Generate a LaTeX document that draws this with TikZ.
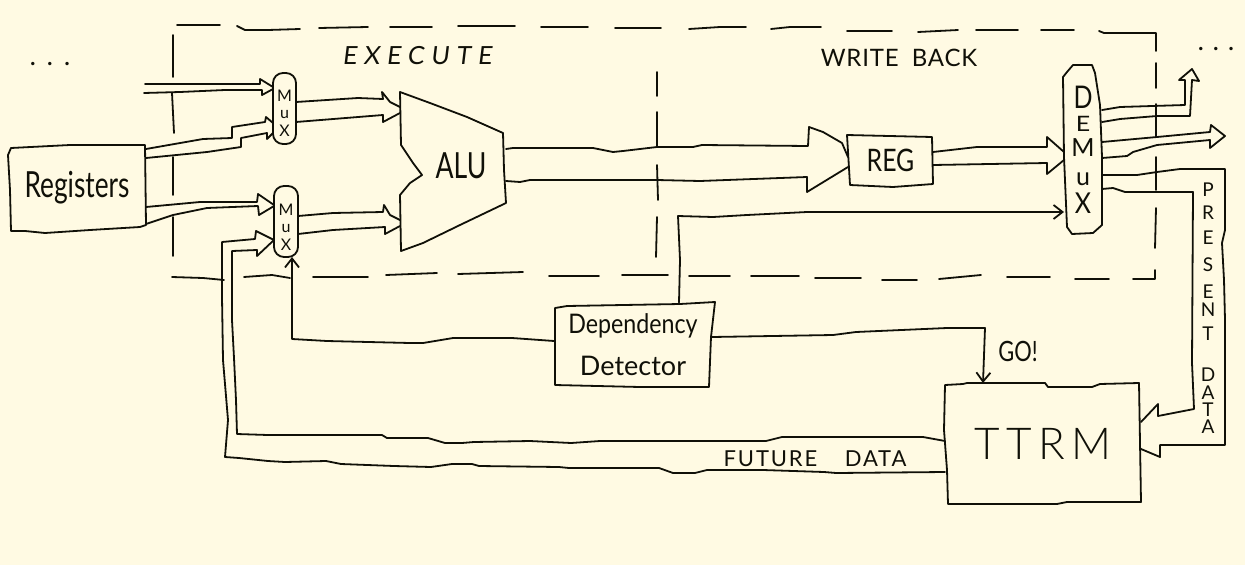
\documentclass[tikz,border=0pt]{standalone}
\usepackage{fontspec}
\usepackage{graphicx}
\setmainfont{Lato}
\newfontfamily\plainface{Lato}
\newfontfamily\trackA[LetterSpace=27,FakeSlant=0.12]{Lato}
\newfontfamily\trackB[LetterSpace=3.5]{Lato}
\newfontfamily\trackC[LetterSpace=14]{Lato Light}
\newfontfamily\trackD[LetterSpace=8.5]{Lato}
\newfontfamily\dotface{Carlito}
\usetikzlibrary{arrows.meta}
\definecolor{paper}{HTML}{FFFAE3}
\definecolor{ink}{HTML}{101008}
\tikzset{
  wire/.style={line width=1.8pt,line join=round,line cap=round,draw=ink},
  thin arrow/.style={wire,-{Straight Barb[length=9pt,width=14pt,line width=1.8pt]}},
  slot/.style 2 args={inner sep=0pt,outer sep=0pt,minimum width=#1,minimum height=#2,align=center,text=ink},
  mux node/.style={slot={#1}{71pt},draw=ink,line width=1.8pt,rounded corners=10pt,font=\fontsize{16}{17.5}\selectfont},
  words/.style={inner sep=0pt,outer sep=0pt,text=ink,align=center},
}
\begin{document}
\begin{tikzpicture}[x=1pt,y=-1pt]
\useasboundingbox (0,0) rectangle (1245,565);
\fill[paper] (0,0) rectangle (1245,565);

% dashed frame of the two stages
\draw[wire]
 (177,25)--(220,25) (237,26)--(245,30)--(268,30)--(300,29) (319,28)--(368,27) (390,27)--(432,27)
 (458,26)--(515,26) (541,27)--(588,27) (615,28)--(661,28) (689,29)--(720,27)--(746,27)
 (771,29)--(790,27)--(821,27) (847,31)--(892,31) (918,32)--(958,30) (976,30)--(1018,30)
 (1041,30)--(1074,30) (1099,31)--(1104,33)--(1156,33)--(1156,51) (1156,63)--(1156,88)
 (1156,104)--(1156,137) (1156,157)--(1156,190) (1156,208)--(1155,248) (1155,270)--(1155,279)--(1133,279)
 (1109,279)--(1075,279) (1050,277)--(1007,277) (981,275)--(939,279) (917,280)--(882,280)
 (861,278)--(815,278) (799,276)--(751,276) (730,276)--(689,276) (668,275)--(622,275)
 (599,276)--(549,276) (523,272)--(458,274) (437,273)--(386,275) (368,277)--(313,277)
 (290,278)--(272,275)--(244,277) (224,280)--(203,278)--(172,277)
 (173,256)--(173,217) (173,195)--(173,157) (174,133)--(172,93) (173,77)--(173,35);
% stage separator
\draw[wire] (657,72)--(657,96) (657,112)--(657,147) (657,165)--(658,200) (657,217)--(656,257);

% nodes
\node[slot={138pt}{84pt},font=\fontsize{36}{36}\selectfont] (registers) at (77,189) {\raisebox{9pt}{\scalebox{.73}[1]{Registers}}};
\node[mux node=23pt] (mux1) at (284.5,108.5) {\rule{0pt}{20pt}M\\u\\X};
\node[mux node=24pt] (mux2) at (286,221.5) {\rule{0pt}{22pt}M\\u\\X};
\node[slot={106pt}{159pt}] (alu) at (453,171.5) {};
\node[words,font=\fontsize{36}{36}\selectfont] (alutext) at (461,166) {\scalebox{.74}[1]{ALU}};
\node[slot={85pt}{51pt},font=\fontsize{31}{31}\selectfont] (reg) at (890.5,160.5) {\raisebox{-3pt}{\scalebox{.8}[1]{REG}}};
\node[slot={38pt}{169pt},font=\fontsize{25}{20}\selectfont] (demux) at (1083,149.5) {\scalebox{1}[1.25]{D}\\[3pt]\scalebox{1}[.85]{E}\\[5pt]M\\[9pt]u\\[6pt]\scalebox{1}[1.15]{X}};
\node[slot={158pt}{85pt},font=\fontsize{27}{42}\selectfont] (dep) at (633,345) {\scalebox{.86}[1]{Dependency}\\\scalebox{1}[1]{Detector}};
\node[slot={196pt}{121pt},font=\fontsize{44}{44}\selectfont] (ttrm) at (1043,443.5) {\raisebox{-7pt}{\trackC TTRM}};

\node[words,font=\fontsize{25}{25}\selectfont] (execute) at (417,56) {\trackA EXECUTE};
\node[words,font=\fontsize{24}{24}\selectfont] (writeback) at (899,58) {\trackB WRITE\hspace{6pt} BACK};
\node[words,font=\fontsize{28}{28}\selectfont] (go) at (1018,351) {\scalebox{.78}[1]{GO!}};
\node[words,font=\fontsize{22}{22}\selectfont] (future) at (815,459) {\trackD FUTURE\hspace{20pt} DATA};
\node[words,font=\fontsize{19}{17}\selectfont] (present) at (1208,308) {P\\[6pt]R\\[8pt]E\\[10pt]S\\[10pt]E\\[1pt]N\\[7pt]T\\[24pt]D\\[1pt]A\\[0pt]T\\[0pt]A};
\node[words,font=\fontsize{28}{28}\selectfont\dotface] (dotsl) at (50,64) {.\hspace{10pt}.\hspace{10pt}.};
\node[words,font=\fontsize{28}{28}\selectfont\dotface] (dotsr) at (1216,49) {.\hspace{8pt}.\hspace{8pt}.};

% free ends
\coordinate (in1a) at (145,84);
\coordinate (in1b) at (144,93);
\coordinate (outup) at (1192,69);
\coordinate (outright) at (1225,136);

% hand drawn outlines
\draw[wire] (8,155)--(11,148)--(70,145)--(145,145)--(146,225)--(140,227)--(90,230)--(45,233)--(25,231)--(11,231)--(10,190)--cycle;
\draw[wire] (400,92)--(430,103)--(467,117)--(503,133)--(504,170)--(506,203)--(460,225)--(423,243)--(401,251)--(400,195)--(410,183)--(422,175)--(413,163)--(401,145)--cycle;
\draw[wire] (847,135)--(932,137)--(933,184)--(893,187)--(850,185)--cycle;
\draw[wire] (1063,77)--(1067,72)--(1073,65)--(1092,65)--(1095,73)--(1100,105)--(1102,157)--(1102,225)--(1093,233)--(1072,234)--(1067,227)--(1064,157)--cycle;
\draw[wire] (555,308)--(567,306)--(680,304)--(715,302)--(711,337)--(709,387)--(640,387)--(555,385)--cycle;
\draw[wire] (945,385)--(963,384)--(967,383)--(1045,383)--(1048,387)--(1092,387)--(1100,384)--(1139,383)--(1141,502)--(1067,502)--(1057,504)--(948,504)--(947,470)--(944,430)--cycle;

% buses into the upper multiplexer
\draw[wire] (in1a)--(240,84)--(260,84)--(260,79)--([yshift=21.5pt]mux1.west);
\draw[wire] (in1b)--(180,92)--(225,90)--(262,90)--(262,95)--([yshift=19.5pt]mux1.west);
\draw[wire] ([yshift=40pt]registers.east)--(203,139)--(232,138)--(232,127)--(265,122)--(266,117)--([yshift=-14.5pt]mux1.west);
\draw[wire] ([yshift=31pt]registers.east)--(207,152)--(241,147)--(241,138)--(267,133)--(267,139)--([yshift=-24.5pt]mux1.west);
% buses into the lower multiplexer
\draw[wire] ([yshift=-18pt]registers.east)--(200,202)--(257,202)--(258,194)--([yshift=16.5pt]mux2.west);
\draw[wire] ([yshift=-35pt]registers.east)--(173,215)--(207,208)--(258,206)--(259,215)--([yshift=15.5pt]mux2.west);
% multiplexers to ALU
\draw[wire] ([yshift=6.5pt]mux1.east)--(358,98)--(383,99)--(382,92)--(390,102)--([yshift=64.5pt]alu.west);
\draw[wire] ([yshift=-13.5pt]mux1.east)--(383,115)--(383,122)--([yshift=58.5pt]alu.west);
\draw[wire] ([yshift=5.5pt]mux2.east)--(333,213)--(383,212)--(384,205)--(390,215)--([yshift=-48.5pt]alu.west);
\draw[wire] ([yshift=-12.5pt]mux2.east)--(333,230)--(385,227)--(385,234)--([yshift=-54.5pt]alu.west);
% ALU to REG
\draw[wire] ([yshift=22.5pt]alu.east)--(513,148)--(593,148)--(613,152)--(623,151)--(657,147)--(693,147)--(702,145)--(808,146)--(809,127)--(823,132)--(842,143)--([yshift=3.5pt]reg.west);
\draw[wire] ([yshift=-9.5pt]alu.east)--(520,182)--(530,180)--(657,180)--(700,181)--(807,177)--(807,192)--([yshift=-6.5pt]reg.west);
% REG to DEMUX
\draw[wire] ([yshift=8.5pt]reg.east)--(977,147)--(1047,147)--(1047,137)--([yshift=-2.5pt]demux.west);
\draw[wire] ([yshift=-4.5pt]reg.east)--(1047,163)--(1047,174)--([yshift=-10.5pt]demux.west);
% DEMUX outputs
\draw[wire] ([yshift=39.5pt]demux.east)--(1120,107)--(1185,105)--(1185,80)--(1179,80)--(outup);
\draw[wire] ([yshift=27.5pt]demux.east)--(1120,119)--(1157,116)--(1190,116)--(1192,80)--(1199,81)--(outup);
\draw[wire] ([yshift=7.5pt]demux.east)--(1157,137)--(1210,132)--(1211,125)--(outright);
\draw[wire] ([yshift=-8.5pt]demux.east)--(1127,156)--(1133,152)--(1157,145)--(1210,140)--(1210,148)--(outright);
% present data
\draw[wire] ([yshift=-25.5pt]demux.east)--(1137,175)--(1157,172)--(1180,169)--(1225,169)--(1225,230)--(1222,243)--(1224,280)--(1225,320)--(1225,445)--(1160,445)--(1160,457)--([yshift=-5.5pt]ttrm.east);
\draw[wire] ([yshift=-39.5pt]demux.east)--(1113,188)--(1125,192)--(1193,192)--(1192,363)--(1194,409)--(1158,416)--(1158,404)--([yshift=21.5pt]ttrm.east);
% future data
\draw[wire] ([yshift=2.5pt]ttrm.west)--(923,437)--(782,437)--(766,441)--(600,441)--(571,443)--(530,441)--(474,442)--(462,443)--(445,443)--(428,438)--(387,438)--(382,435)--(268,435)--(237,434)--(236,400)--(234,358)--(232,320)--(232,251)--(257,250)--(257,256)--([yshift=-18.5pt]mux2.west);
\draw[wire] ([yshift=-28.5pt]ttrm.west)--(836,473)--(824,472)--(763,470)--(707,470)--(695,473)--(673,473)--(659,468)--(569,468)--(559,467)--(479,466)--(472,464)--(452,464)--(431,467)--(394,466)--(341,464)--(326,461)--(285,462)--(268,461)--(239,458)--(225,457)--(228,420)--(223,360)--(222,297)--(222,242)--(255,239)--(256,231)--([yshift=-18.5pt]mux2.west);
% dependency detector outputs
\draw[thin arrow] ([yshift=4pt]dep.west)--(512,338)--(453,338)--(423,343)--(410,343)--(327,341)--(292,339)--([xshift=6pt]mux2.south);
\draw[thin arrow] ([xshift=46pt]dep.north)--(680,260)--(678,216)--(713,217)--(747,215)--(807,212)--([yshift=-62.5pt]demux.west);
\draw[thin arrow] ([yshift=8pt]dep.east)--(833,335)--(856,332)--(947,328)--(985,328)--([xshift=-60pt]ttrm.north);
\end{tikzpicture}
\end{document}
